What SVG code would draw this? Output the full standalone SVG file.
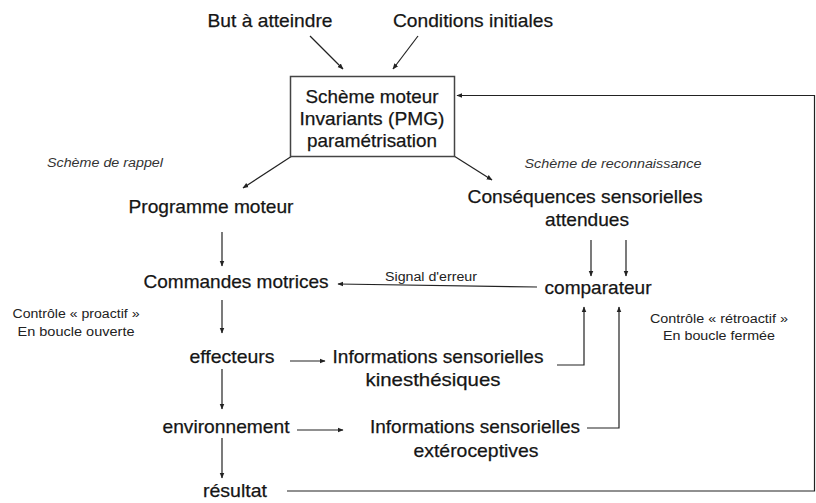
<svg xmlns="http://www.w3.org/2000/svg" width="816" height="503" viewBox="0 0 816 503">
<style>
text{font-family:"Liberation Sans",Arial,sans-serif;text-anchor:middle}
.t{font-size:19px;fill:#151515;stroke:#151515;stroke-width:0.25}
.s{font-size:12.5px;fill:#222}
.i{font-size:12px;font-style:italic;fill:#333}
.a{stroke:#222;stroke-width:1.2;fill:none;marker-end:url(#ah)}
</style>
<defs>
<marker id="ah" viewBox="0 0 10 10" refX="9" refY="5" markerWidth="6" markerHeight="6" markerUnits="userSpaceOnUse" orient="auto">
<path d="M0,1 L10,5 L0,9 Z" fill="#222"/>
</marker>
</defs>
<rect width="816" height="503" fill="#fff"/>
<g id="connectors">
<line class="a" x1="310" y1="36" x2="343" y2="69"/>
<line class="a" x1="418" y1="36" x2="393" y2="69"/>
<line class="a" x1="292" y1="156" x2="243" y2="188"/>
<line class="a" x1="454" y1="156" x2="492" y2="180"/>
<line class="a" x1="222" y1="232" x2="222" y2="266"/>
<line class="a" x1="222" y1="300" x2="222" y2="333"/>
<line class="a" x1="222" y1="369" x2="222" y2="409"/>
<line class="a" x1="222" y1="438" x2="222" y2="478"/>
<line class="a" x1="591" y1="240" x2="591" y2="276"/>
<line class="a" x1="626" y1="240" x2="626" y2="276"/>
<line class="a" x1="537" y1="287" x2="338" y2="284"/>
<line class="a" x1="290" y1="361" x2="325" y2="361"/>
<line class="a" x1="297" y1="430" x2="343" y2="430"/>
<polyline class="a" points="557,365 584,365 584,307"/>
<polyline class="a" points="587,428 619,428 619,307"/>
<polyline class="a" points="287,491 814.5,491 814.5,95.5 457,95.5"/>
</g>
<g id="but"><text class="t" x="270" y="27" textLength="125" lengthAdjust="spacingAndGlyphs">But à atteindre</text></g>
<g id="conditions"><text class="t" x="473" y="27" textLength="160" lengthAdjust="spacingAndGlyphs">Conditions initiales</text></g>
<g id="scheme">
<rect x="290.5" y="76.5" width="164" height="80" fill="#fff" stroke="#444" stroke-width="1.5"/>
<text class="t" x="372" y="103" textLength="133" lengthAdjust="spacingAndGlyphs">Schème moteur</text>
<text class="t" x="372" y="125" textLength="145" lengthAdjust="spacingAndGlyphs">Invariants (PMG)</text>
<text class="t" x="372" y="147" textLength="130" lengthAdjust="spacingAndGlyphs">paramétrisation</text>
</g>
<g id="rappel"><text class="i" x="105" y="167" textLength="116" lengthAdjust="spacingAndGlyphs">Schème de rappel</text></g>
<g id="reconnaissance"><text class="i" x="613" y="168" textLength="177" lengthAdjust="spacingAndGlyphs">Schème de reconnaissance</text></g>
<g id="programme"><text class="t" x="211" y="213" textLength="165" lengthAdjust="spacingAndGlyphs">Programme moteur</text></g>
<g id="consequences">
<text class="t" x="585" y="203" textLength="235" lengthAdjust="spacingAndGlyphs">Conséquences sensorielles</text>
<text class="t" x="587" y="226" textLength="84" lengthAdjust="spacingAndGlyphs">attendues</text>
</g>
<g id="commandes"><text class="t" x="236" y="288" textLength="185" lengthAdjust="spacingAndGlyphs">Commandes motrices</text></g>
<g id="signal"><text class="s" x="431" y="281" textLength="92" lengthAdjust="spacingAndGlyphs">Signal d'erreur</text></g>
<g id="comparateur"><text class="t" x="598" y="294" textLength="107" lengthAdjust="spacingAndGlyphs">comparateur</text></g>
<g id="proactif">
<text class="s" x="76" y="318" textLength="127" lengthAdjust="spacingAndGlyphs">Contrôle « proactif »</text>
<text class="s" x="76" y="336" textLength="117" lengthAdjust="spacingAndGlyphs">En boucle ouverte</text>
</g>
<g id="retroactif">
<text class="s" x="719" y="323" textLength="138" lengthAdjust="spacingAndGlyphs">Contrôle « rétroactif »</text>
<text class="s" x="719" y="340" textLength="112" lengthAdjust="spacingAndGlyphs">En boucle fermée</text>
</g>
<g id="effecteurs"><text class="t" x="232" y="363" textLength="85" lengthAdjust="spacingAndGlyphs">effecteurs</text></g>
<g id="kinesthesiques">
<text class="t" x="438" y="363" textLength="211" lengthAdjust="spacingAndGlyphs">Informations sensorielles</text>
<text class="t" x="433" y="386" textLength="135" lengthAdjust="spacingAndGlyphs">kinesthésiques</text>
</g>
<g id="environnement"><text class="t" x="226" y="433" textLength="127" lengthAdjust="spacingAndGlyphs">environnement</text></g>
<g id="exteroceptives">
<text class="t" x="475" y="433" textLength="210" lengthAdjust="spacingAndGlyphs">Informations sensorielles</text>
<text class="t" x="476" y="457" textLength="125" lengthAdjust="spacingAndGlyphs">extéroceptives</text>
</g>
<g id="resultat"><text class="t" x="235" y="497" textLength="64" lengthAdjust="spacingAndGlyphs">résultat</text></g>
</svg>
